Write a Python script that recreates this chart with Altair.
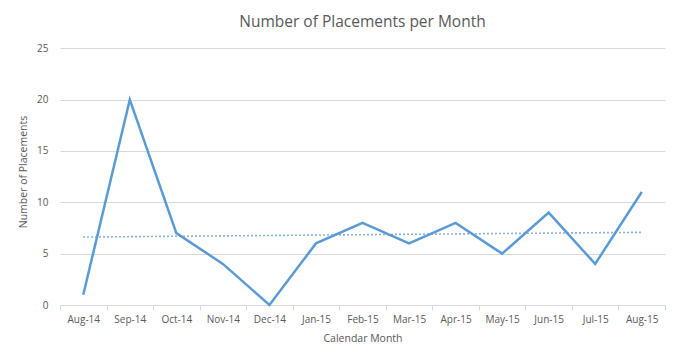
import altair as alt
import pandas as pd

months = ["Aug-14", "Sep-14", "Oct-14", "Nov-14", "Dec-14", "Jan-15", "Feb-15",
          "Mar-15", "Apr-15", "May-15", "Jun-15", "Jul-15", "Aug-15"]
placements = [1, 20, 7, 4, 0, 6, 8, 6, 8, 5, 9, 4, 11]

df = pd.DataFrame({"month": months, "value": placements, "i": list(range(len(months)))})

FONT = "Open Sans"
TXT = "#595959"
GRID = "#d9d9d9"
BLUE = "#5b9bd5"

xenc = alt.X("month:N", sort=months, bandPosition=0.5,
             scale=alt.Scale(type="band", paddingInner=0, paddingOuter=0),
             axis=alt.Axis(title="Calendar Month", labelAngle=0, tickBand="extent",
                           ticks=True, tickSize=5, tickColor=GRID, domainColor=GRID,
                           grid=False, labelPadding=4, titlePadding=9))
yenc = alt.Y("value:Q", scale=alt.Scale(domain=[0, 25]),
             axis=alt.Axis(title="Number  of Placements", values=[0, 5, 10, 15, 20, 25],
                           grid=True, gridColor=GRID, domain=False, ticks=False,
                           labelPadding=12, titlePadding=8))

line = alt.Chart(df).mark_line(color=BLUE, strokeWidth=2.5).encode(x=xenc, y=yenc)

trend = alt.Chart(df).transform_regression("i", "value").transform_lookup(
    lookup="i", from_=alt.LookupData(data=df, key="i", fields=["month"])
).mark_line(color=BLUE, strokeWidth=1.6, strokeDash=[1.5, 2.5]).encode(
    x=alt.X("month:N", sort=months, bandPosition=0.5),
    y=alt.Y("value:Q"),
)

chart = alt.layer(line, trend).properties(
    width=605, height=267,
    title=alt.TitleParams("Number of Placements per Month", fontSize=15.5, font=FONT,
                          color=TXT, fontWeight="normal", offset=8),
    autosize=alt.AutoSizeParams(type="none"),
    padding={"left": 52, "top": 30, "right": 7, "bottom": 44},
    background="white",
).configure_axis(
    labelFont=FONT, titleFont=FONT, labelColor=TXT, titleColor=TXT,
    labelFontSize=10, titleFontSize=10.5, titleFontWeight="normal",
).configure_view(stroke=None)

chart.save("out.html", embed_options={"renderer": "svg", "actions": False})
